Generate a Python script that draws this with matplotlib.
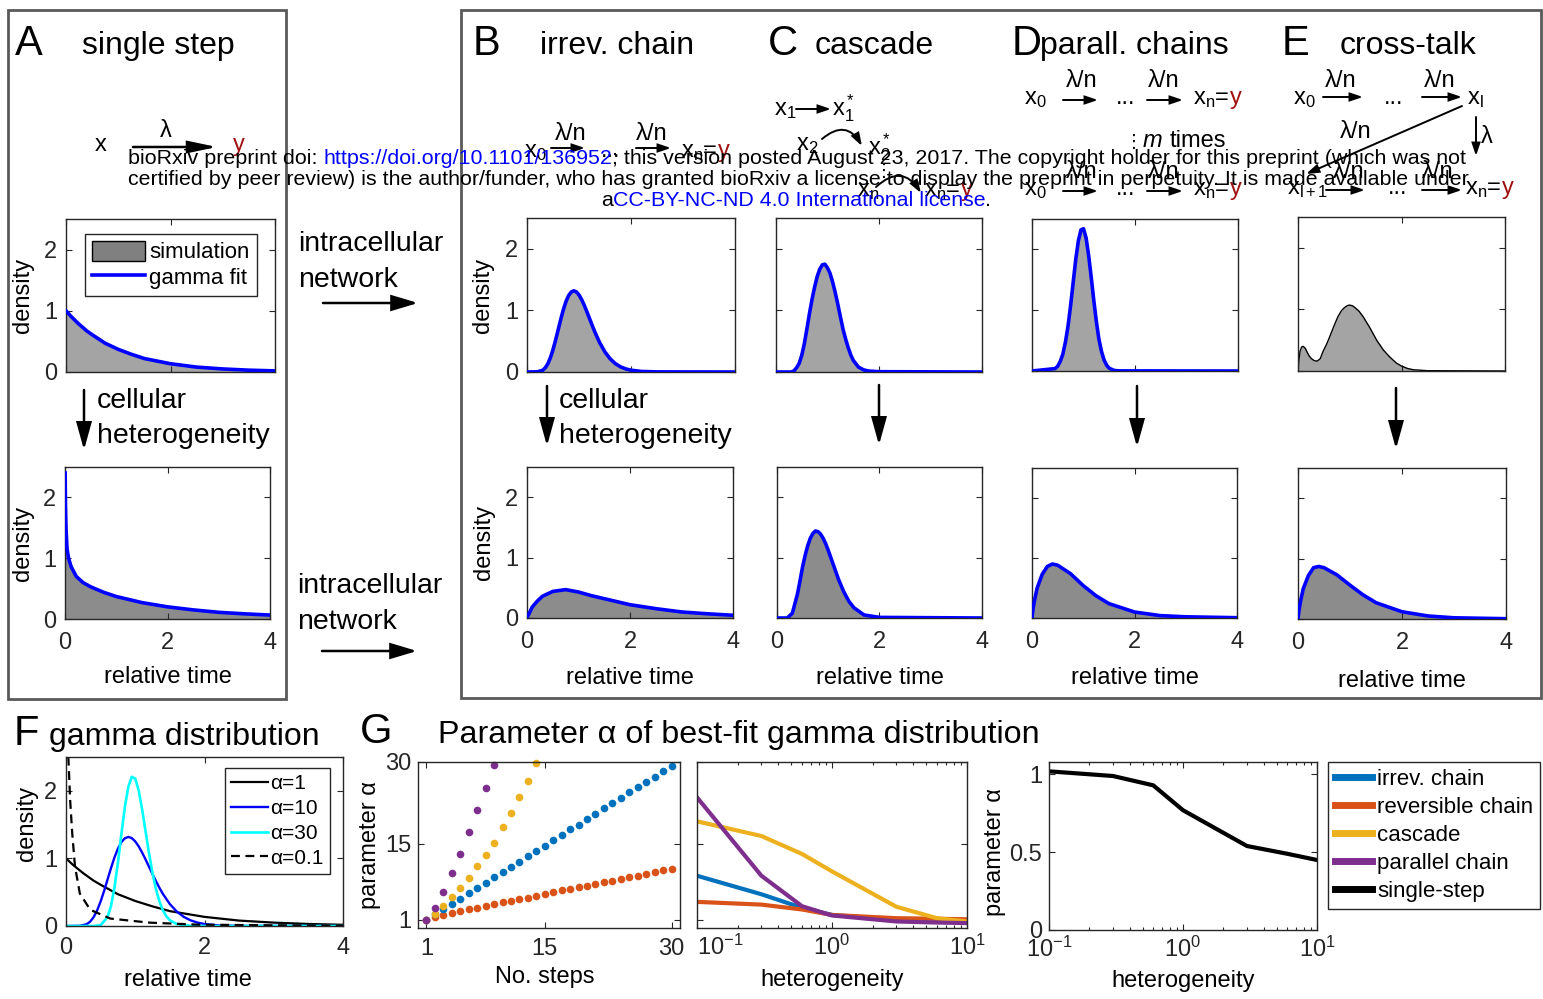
import matplotlib
matplotlib.use("Agg")
import matplotlib.pyplot as plt
from matplotlib.patches import FancyArrowPatch, Rectangle, Patch
from matplotlib.lines import Line2D

plt.rcParams['font.family'] = ['Liberation Sans', 'DejaVu Sans']
plt.rcParams['mathtext.fontset'] = 'custom'
plt.rcParams['mathtext.rm'] = 'Liberation Sans'
plt.rcParams['mathtext.it'] = 'Liberation Sans:italic'
plt.rcParams['mathtext.bf'] = 'Liberation Sans:bold'

# ---------------- data ----------------
# A  single step
a_top_t = [0, 0.1, 0.25, 0.4, 0.5, 0.75, 1, 1.25, 1.5, 2, 2.5, 3, 3.5, 4]
a_top_d = [1.0, 0.905, 0.78, 0.67, 0.61, 0.47, 0.37, 0.29, 0.22, 0.135, 0.08, 0.05, 0.03, 0.018]
a_bot_t = [0.003, 0.01, 0.02, 0.04, 0.07, 0.12, 0.22, 0.35, 0.5, 0.75, 1, 1.5, 2, 2.5, 3, 3.5, 4]
a_bot_d = [2.4, 1.85, 1.5, 1.15, 1.0, 0.86, 0.70, 0.60, 0.53, 0.44, 0.37, 0.27, 0.2, 0.15, 0.11, 0.085, 0.065]
# B  irreversible chain
b_top_t = [0, 0.2, 0.3, 0.35, 0.4, 0.45, 0.5, 0.55, 0.6, 0.65, 0.7, 0.75, 0.8, 0.85, 0.9, 0.95, 1.0,
           1.05, 1.1, 1.15, 1.2, 1.25, 1.3, 1.35, 1.4, 1.5, 1.6, 1.7, 1.8, 1.9, 2.0, 2.2, 2.5, 4]
b_top_d = [0, 0.003, 0.027, 0.066, 0.132, 0.232, 0.363, 0.518, 0.688, 0.858, 1.014, 1.145, 1.241,
           1.298, 1.318, 1.30, 1.251, 1.177, 1.085, 0.982, 0.874, 0.765, 0.661, 0.563, 0.473, 0.324,
           0.213, 0.135, 0.083, 0.05, 0.029, 0.009, 0.002, 0]
b_bot_t = [0, 0.1, 0.2, 0.3, 0.5, 0.75, 1, 1.25, 1.5, 2, 2.5, 3, 3.5, 4]
b_bot_d = [0, 0.18, 0.28, 0.36, 0.44, 0.47, 0.43, 0.37, 0.32, 0.22, 0.155, 0.10, 0.07, 0.045]
# C  cascade
c_top_t = [0, 0.3, 0.35, 0.4, 0.45, 0.5, 0.55, 0.6, 0.65, 0.7, 0.75, 0.8, 0.85, 0.9, 0.95, 1.0,
           1.05, 1.1, 1.15, 1.2, 1.25, 1.3, 1.35, 1.4, 1.45, 1.5, 1.6, 1.7, 1.8, 2, 4]
c_top_d = [0, 0.0, 0.02, 0.07, 0.14, 0.27, 0.46, 0.7, 0.95, 1.18, 1.38, 1.55, 1.67, 1.74, 1.75, 1.69,
           1.6, 1.46, 1.29, 1.1, 0.9, 0.7, 0.54, 0.4, 0.28, 0.19, 0.08, 0.035, 0.015, 0.005, 0]
c_bot_t = [0, 0.2, 0.3, 0.4, 0.45, 0.5, 0.55, 0.6, 0.65, 0.7, 0.75, 0.8, 0.85, 0.9, 0.95, 1.0,
           1.1, 1.2, 1.3, 1.4, 1.5, 1.7, 2, 4]
c_bot_d = [0, 0.0, 0.08, 0.4, 0.62, 0.85, 1.04, 1.2, 1.32, 1.4, 1.44, 1.43, 1.39, 1.32, 1.23, 1.12,
           0.88, 0.64, 0.44, 0.28, 0.17, 0.05, 0.01, 0]
# D  parallel chains
d_top_t = [0, 0.45, 0.5, 0.55, 0.6, 0.65, 0.7, 0.75, 0.8, 0.85, 0.9, 0.95, 1.0, 1.05, 1.1, 1.15,
           1.2, 1.25, 1.3, 1.35, 1.4, 1.45, 1.5, 1.6, 1.7, 4]
d_top_d = [0, 0.04, 0.08, 0.16, 0.28, 0.48, 0.74, 1.08, 1.46, 1.84, 2.14, 2.32, 2.34, 2.19, 1.90,
           1.54, 1.16, 0.81, 0.52, 0.32, 0.18, 0.094, 0.045, 0.008, 0.002, 0]
d_bot_t = [0, 0.02, 0.05, 0.1, 0.2, 0.3, 0.4, 0.5, 0.75, 1, 1.25, 1.5, 2, 2.5, 3, 4]
d_bot_d = [0, 0.15, 0.3, 0.5, 0.73, 0.86, 0.9, 0.88, 0.74, 0.54, 0.37, 0.24, 0.1, 0.04, 0.02, 0.005]
# E  cross-talk (simulation only on top)
e_top_t = [0, 0.02, 0.04, 0.07, 0.1, 0.14, 0.18, 0.22, 0.26, 0.31, 0.37, 0.43, 0.48, 0.55, 0.61,
           0.69, 0.77, 0.84, 0.9, 0.95, 0.99, 1.05, 1.1, 1.18, 1.26, 1.39, 1.52, 1.65, 1.77, 1.9,
           2.0, 2.12, 2.23, 2.5, 4]
e_top_d = [0, 0.2, 0.32, 0.39, 0.40, 0.37, 0.30, 0.24, 0.2, 0.17, 0.16, 0.2, 0.31, 0.43, 0.55,
           0.72, 0.88, 0.98, 1.03, 1.06, 1.07, 1.06, 1.03, 0.97, 0.88, 0.7, 0.5, 0.34, 0.23, 0.13,
           0.08, 0.04, 0.02, 0.005, 0]
e_bot_t = [0, 0.02, 0.05, 0.1, 0.2, 0.3, 0.4, 0.5, 0.75, 1, 1.25, 1.5, 2, 2.5, 3, 4]
e_bot_d = [0, 0.15, 0.3, 0.5, 0.72, 0.85, 0.87, 0.85, 0.73, 0.56, 0.4, 0.27, 0.12, 0.05, 0.02, 0.005]
# F  gamma distributions
f1_t = [0, 0.1, 0.25, 0.4, 0.5, 0.75, 1, 1.25, 1.5, 2, 2.5, 3, 3.5, 4]
f1_d = [1.0, 0.905, 0.78, 0.67, 0.61, 0.47, 0.37, 0.29, 0.22, 0.135, 0.08, 0.05, 0.03, 0.018]
f10_t = [0, 0.2, 0.3, 0.35, 0.4, 0.45, 0.5, 0.55, 0.6, 0.65, 0.7, 0.75, 0.8, 0.85, 0.9, 0.95, 1.0,
         1.05, 1.1, 1.15, 1.2, 1.25, 1.3, 1.35, 1.4, 1.5, 1.6, 1.7, 1.8, 1.9, 2.0, 2.2, 2.5, 4]
f10_d = [0, 0.003, 0.027, 0.066, 0.132, 0.232, 0.363, 0.518, 0.688, 0.858, 1.014, 1.145, 1.241,
         1.298, 1.318, 1.30, 1.251, 1.177, 1.085, 0.982, 0.874, 0.765, 0.661, 0.563, 0.473, 0.324,
         0.213, 0.135, 0.083, 0.05, 0.029, 0.009, 0.002, 0]
f30_t = [0, 0.4, 0.5, 0.6, 0.65, 0.7, 0.75, 0.8, 0.85, 0.9, 0.95, 1.0, 1.05, 1.1, 1.15, 1.2, 1.25,
         1.3, 1.35, 1.4, 1.45, 1.5, 1.6, 1.8, 2, 4]
f30_d = [0, 0, 0.013, 0.131, 0.297, 0.569, 0.938, 1.36, 1.761, 2.06, 2.207, 2.18, 2.002, 1.72,
         1.394, 1.07, 0.779, 0.54, 0.361, 0.23, 0.143, 0.085, 0.028, 0.002, 0, 0]
f01_t = [0.01, 0.03, 0.06, 0.09, 0.13, 0.2, 0.35, 0.64, 1.2, 1.9, 3, 4]
f01_d = [4.0, 2.6, 1.86, 1.37, 0.88, 0.48, 0.24, 0.11, 0.05, 0.02, 0.01, 0.005]
f_labels = ['α=1', 'α=10', 'α=30', 'α=0.1']
# G  best-fit alpha vs number of steps
steps_irrev = list(range(1, 31))
alpha_irrev = [1.0, 2.0, 2.9, 3.9, 4.9, 5.9, 6.8, 7.8, 8.8, 9.8, 10.7, 11.7, 12.7, 13.7, 14.6,
               15.6, 16.6, 17.6, 18.5, 19.5, 20.5, 21.5, 22.4, 23.4, 24.4, 25.4, 26.3, 27.3, 28.3, 29.3]
steps_rev = list(range(1, 31))
alpha_rev = [1.0, 1.5, 1.9, 2.3, 2.6, 2.9, 3.2, 3.6, 3.9, 4.2, 4.5, 4.8, 5.1, 5.4, 5.8,
             6.1, 6.4, 6.7, 7.0, 7.3, 7.6, 7.9, 8.2, 8.5, 8.8, 9.1, 9.5, 9.8, 10.1, 10.4]
steps_casc = list(range(1, 15))
alpha_casc = [1.0, 2.1, 3.6, 5.2, 6.9, 8.7, 10.8, 13.0, 15.2, 18.0, 20.7, 23.6, 26.6, 29.8]
steps_par = list(range(1, 10))
alpha_par = [1.0, 3.2, 6.2, 9.6, 13.1, 17.1, 21.1, 25.2, 29.5]
# G  best-fit alpha vs heterogeneity
het = [0.1, 0.3, 0.6, 1, 3, 6, 10]
het_irrev = [9.1, 5.7, 3.2, 1.9, 1.0, 0.8, 0.7]
het_rev = [4.3, 3.8, 2.9, 1.9, 1.3, 1.2, 1.1]
het_casc = [19.1, 16.4, 13.1, 9.9, 3.4, 1.3, 0.7]
het_par = [23.5, 9.1, 3.5, 1.8, 0.7, 0.5, 0.4]
het_single = [1.02, 0.99, 0.93, 0.77, 0.54, 0.49, 0.45]
g_labels = ['irrev. chain', 'reversible chain', 'cascade', 'parallel chain', 'single-step']
het_ticks = [0.1, 1, 10]
het_ticklabels = [r'$10^{-1}$', r'$10^{0}$', r'$10^{1}$']

# ---------------- styling ----------------
W, H = 1543, 999
BLUE = '#0000ff'
DRED = '#a01010'
C_IRR, C_REV, C_CAS, C_PAR = '#0072BD', '#D95319', '#EDB120', '#7E2F8E'
GRAY_T, GRAY_B = '#a4a4a4', '#8c8c8c'
AXC = '#262626'

fig = plt.figure(figsize=(W / 100, H / 100), dpi=100)
renderer = fig.canvas.get_renderer()


def fx(x):
    return x / W


def fy(y):
    return 1 - y / H


def add_ax(box):
    x0, y0, x1, y1 = box
    ax = fig.add_axes([fx(x0), fy(y1), (x1 - x0) / W, (y1 - y0) / H])
    for s in ax.spines.values():
        s.set_color(AXC)
        s.set_linewidth(1.0)
    ax.tick_params(which='both', direction='in', top=True, right=True, width=0.8,
                   labelsize=17, colors=AXC, labelcolor=AXC)
    ax.tick_params(which='major', length=4)
    ax.tick_params(which='minor', length=2)
    return ax


def ylab(ax, box, s, right_px, ycen=None, size=17):
    x0, y0, x1, y1 = box
    ax.set_ylabel(s, fontsize=size, color='k')
    yc = 0.5 if ycen is None else (y1 - ycen) / (y1 - y0)
    ax.yaxis.set_label_coords((right_px - x0) / (x1 - x0), yc)


def xlab(ax, box, s, top_px, xcen=None, size=17):
    x0, y0, x1, y1 = box
    ax.set_xlabel(s, fontsize=size, color='k')
    xc = 0.5 if xcen is None else (xcen - x0) / (x1 - x0)
    ax.xaxis.set_label_coords(xc, (y1 - top_px) / (y1 - y0))


def txt(x, y, s, size=17, color='k', ha='left', va='baseline', **kw):
    return fig.text(fx(x), fy(y), s, fontsize=size, color=color, ha=ha, va=va, **kw)


def row(x, y, parts, size, zorder=5):
    # parts: (text, colour, style, space_after)
    sp = (txt(0, 0, 'x x', size).get_window_extent(renderer).width
          - txt(0, 0, 'xx', size).get_window_extent(renderer).width)
    for t in fig.texts[-2:]:
        t.remove()
    for s, c, st, gap in parts:
        t = txt(x, y, s, size, color=c, style=st, zorder=zorder)
        x += t.get_window_extent(renderer).width + (sp if gap else 0)
    return x


def arrow(x0, y0, x1, y1, lw=1.4, ms=10, hl=0.75, hw=0.25, rad=0.0):
    a = FancyArrowPatch((fx(x0), fy(y0)), (fx(x1), fy(y1)), transform=fig.transFigure,
                        arrowstyle=f'-|>,head_length={hl},head_width={hw}', mutation_scale=ms,
                        lw=lw, color='k', connectionstyle=f'arc3,rad={rad}',
                        shrinkA=0, shrinkB=0, joinstyle='miter')
    fig.add_artist(a)


def density_ax(box, t, d, fill, fit=True, outline=False, xlabels=False, ylabels=False):
    ax = add_ax(box)
    ax.fill_between(t, 0, d, color=fill, lw=0, zorder=1)
    if outline:
        ax.plot(t, d, color='k', lw=1.0, zorder=2)
    if fit:
        ax.plot(t, d, color=BLUE, lw=2.6, zorder=3)
    ax.set_xlim(0, 4)
    ax.set_ylim(0, 2.5)
    ax.set_xticks([0, 2, 4])
    ax.set_yticks([0, 1, 2])
    ax.tick_params(axis='x', pad=9.5, labelbottom=xlabels)
    ax.tick_params(axis='y', pad=6.5, labelleft=ylabels)
    return ax


# ---------------- frames ----------------
for (x0, y0, x1, y1) in [(8, 10, 286, 699), (461, 10, 1541, 698)]:
    fig.add_artist(Rectangle((fx(x0), fy(y1)), (x1 - x0) / W, (y1 - y0) / H,
                             transform=fig.transFigure, fill=False, ec='#5a5a5a', lw=2))

# ---------------- density panels ----------------
A_TOP, A_BOT = (66, 219, 275, 372), (65, 467, 270, 619)
B_TOP, B_BOT = (527, 218, 735, 372), (527, 467, 733, 618)
C_TOP, C_BOT = (776, 218, 982, 372), (777, 467, 982, 618)
D_TOP, D_BOT = (1032, 219, 1238, 371), (1032, 468, 1237, 618)
E_TOP, E_BOT = (1298, 217, 1505, 371), (1298, 468, 1506, 619)

ax = density_ax(A_TOP, a_top_t, a_top_d, GRAY_T, ylabels=True)
ylab(ax, A_TOP, 'density', 34)
hnd = [Patch(facecolor='#808080', edgecolor='k', lw=1.0), Line2D([], [], color=BLUE, lw=2.6)]
ax.legend(hnd, ['simulation', 'gamma fit'], loc='upper left', bbox_to_anchor=(0.091, 0.902),
          fontsize=16, frameon=True, fancybox=False, edgecolor=AXC, framealpha=1,
          handlelength=2.4, handleheight=1.0, handletextpad=0.2, labelspacing=0.15,
          borderpad=0.3, borderaxespad=0)
ax = density_ax(A_BOT, a_bot_t, a_bot_d, GRAY_B, xlabels=True, ylabels=True)
ylab(ax, A_BOT, 'density', 34)
xlab(ax, A_BOT, 'relative time', 666)

ax = density_ax(B_TOP, b_top_t, b_top_d, GRAY_T, outline=True, ylabels=True)
ylab(ax, B_TOP, 'density', 494)
ax = density_ax(B_BOT, b_bot_t, b_bot_d, GRAY_B, xlabels=True, ylabels=True)
ylab(ax, B_BOT, 'density', 495)
xlab(ax, B_BOT, 'relative time', 667)

density_ax(C_TOP, c_top_t, c_top_d, GRAY_T, outline=True)
ax = density_ax(C_BOT, c_bot_t, c_bot_d, GRAY_B, xlabels=True)
xlab(ax, C_BOT, 'relative time', 667)

density_ax(D_TOP, d_top_t, d_top_d, GRAY_T, outline=True)
ax = density_ax(D_BOT, d_bot_t, d_bot_d, GRAY_B, xlabels=True)
xlab(ax, D_BOT, 'relative time', 667)

density_ax(E_TOP, e_top_t, e_top_d, GRAY_T, fit=False, outline=True)
ax = density_ax(E_BOT, e_bot_t, e_bot_d, GRAY_B, xlabels=True)
xlab(ax, E_BOT, 'relative time', 670)

# ---------------- F ----------------
F_BOX = (66, 757, 343, 926)
ax = add_ax(F_BOX)
ax.plot(f1_t, f1_d, color='k', lw=1.6, label=f_labels[0])
ax.plot(f10_t, f10_d, color=BLUE, lw=1.7, label=f_labels[1])
ax.plot(f30_t, f30_d, color='#00ffff', lw=1.9, label=f_labels[2])
ax.plot(f01_t, f01_d, color='k', lw=1.6, dashes=(4, 2.5), label=f_labels[3])
ax.set_xlim(0, 4)
ax.set_ylim(0, 2.5)
ax.set_xticks([0, 2, 4])
ax.set_yticks([0, 1, 2])
ax.tick_params(axis='x', pad=8)
ax.tick_params(axis='y', pad=6.5)
ylab(ax, F_BOX, 'density', 38, ycen=823)
xlab(ax, F_BOX, 'relative time', 969, xcen=188)
ax.legend(loc='upper right', bbox_to_anchor=(0.953, 0.935), fontsize=15, frameon=True,
          fancybox=False, edgecolor=AXC, framealpha=1, handlelength=1.8, handletextpad=0.1,
          labelspacing=0.28, borderpad=0.3, borderaxespad=0)

# ---------------- G ----------------
G1 = (418, 762, 680, 928)
ax = add_ax(G1)
for s, a, c in [(steps_rev, alpha_rev, C_REV), (steps_irrev, alpha_irrev, C_IRR),
                (steps_casc, alpha_casc, C_CAS), (steps_par, alpha_par, C_PAR)]:
    ax.plot(s, a, 'o', color=c, ms=5.5, mec='none', clip_on=False)
ax.set_xlim(0, 31)
ax.set_ylim(-0.5, 30)
ax.set_xticks([1, 15, 30])
ax.set_yticks([1, 15, 30])
ax.tick_params(axis='x', pad=7)
ax.tick_params(axis='y', pad=5)
ylab(ax, G1, 'parameter α', 381)
xlab(ax, G1, 'No. steps', 966, xcen=545)

G2 = (697, 762, 967, 928)
ax = add_ax(G2)
g_handles = []
for a, c in [(het_irrev, C_IRR), (het_rev, C_REV), (het_casc, C_CAS), (het_par, C_PAR)]:
    g_handles += ax.plot(het, a, color=c, lw=3)
ax.set_xscale('log')
ax.set_xlim(0.1, 10)
ax.set_ylim(-0.5, 30)
ax.set_xticks(het_ticks)
ax.set_xticklabels(het_ticklabels)
ax.xaxis.get_major_ticks()[0].label1.set_horizontalalignment('left')
ax.set_yticks([1, 15, 30])
ax.tick_params(axis='y', labelleft=False)
ax.tick_params(axis='x', pad=5)
xlab(ax, G2, 'heterogeneity', 969)

G3 = (1049, 762, 1317, 930)
ax = add_ax(G3)
g_handles += ax.plot(het, het_single, color='k', lw=3)
ax.set_xscale('log')
ax.set_xlim(0.1, 10)
ax.set_xticks(het_ticks)
ax.set_xticklabels(het_ticklabels)
ax.set_ylim(0, 1.08)
ax.set_yticks([0, 0.5, 1])
ax.set_yticklabels(['0', '0.5', '1'])
ax.tick_params(axis='x', pad=5)
ax.tick_params(axis='y', pad=5)
ylab(ax, G3, 'parameter α', 1006, ycen=852)
xlab(ax, G3, 'heterogeneity', 970)

leg_h = [Line2D([], [], color=h.get_color(), lw=5) for h in g_handles]
fig.legend(leg_h, g_labels, loc='upper left', bbox_to_anchor=(fx(1328), fy(762)),
           fontsize=16, frameon=True, fancybox=False, edgecolor=AXC, framealpha=1,
           handlelength=1.7, handletextpad=0.2, labelspacing=0.32, borderpad=0.3,
           borderaxespad=0)

# ---------------- titles ----------------
for x, s in [(15, 'A'), (473, 'B'), (768, 'C'), (1012, 'D'), (1282, 'E')]:
    txt(x, 55, s, 30)
for x, s in [(82, 'single step'), (540, 'irrev. chain'), (815, 'cascade'),
             (1040, 'parall. chains'), (1340, 'cross-talk')]:
    txt(x, 54, s, 23)
txt(14, 745, 'F', 30)
txt(49, 745, 'gamma distribution', 23)
txt(360, 743, 'G', 30)
txt(438, 743, 'Parameter α of best-fit gamma distribution', 23.2)

# ---------------- connecting text and arrows ----------------
for yb1, yb2, ya, xl in [(251, 287, 303, 298), (593, 629, 651, 297)]:
    txt(xl, yb1, 'intracellular', 20.5)
    txt(xl, yb2, 'network', 20.5)
    arrow(xl + 25, ya, xl + 120, ya, lw=1.8, ms=20, hl=0.8, hw=0.24)
for xa, xt in [(84, 97), (547, 559)]:
    txt(xt, 408, 'cellular', 20.5)
    txt(xt, 443, 'heterogeneity', 20.5)
for xa, y0, y1 in [(84, 390, 450), (547, 386, 446), (879, 385, 445), (1137, 386, 447), (1396, 388, 449)]:
    arrow(xa, y0, xa, y1, lw=1.8, ms=20, hl=0.83, hw=0.23)

# ---------------- reaction schemes ----------------
S = 17
XN = r'x$_\mathrm{n}$='
# A
txt(95, 151, 'x', S)
txt(166, 137, 'λ', S, ha='center')
arrow(133, 147, 217, 147, lw=1.8, ms=20, hl=0.86, hw=0.18)
txt(233, 151, 'y', S, color=DRED)
# B
txt(524, 157, r'x$_0$', S)
txt(555, 140, 'λ/n', S)
arrow(551, 148, 585, 148)
txt(601, 157, '...', S)
txt(636, 140, 'λ/n', S)
arrow(636, 148, 671, 148)
row(681, 157, [(XN, 'k', 'normal', False), ('y', DRED, 'normal', False)], S)
# C
txt(774, 115, r'x$_1$', S)
arrow(796, 109, 831, 109)
txt(832, 115, r'x$_1^*$', S)
txt(796, 150, r'x$_2$', S)
arrow(822, 139, 862, 146, rad=-0.6)
txt(868, 154, r'x$_2^*$', S)
txt(884, 176, '⋮', 13, ha='center')
txt(857, 196, r'x$_\mathrm{n}$', S)
arrow(876, 187, 921, 193, rad=-0.6)
row(924, 196, [(XN, 'k', 'normal', False), ('y', DRED, 'normal', False)], S)
# D
for dy in (0, 91):
    txt(1024, 104 + dy, r'x$_0$', S)
    txt(1066, 87 + dy, 'λ/n', S)
    arrow(1063, 100 + dy, 1098, 100 + dy)
    txt(1116, 104 + dy, '...', S)
    txt(1148, 87 + dy, 'λ/n', S)
    arrow(1147, 100 + dy, 1183, 100 + dy)
    row(1193, 104 + dy, [(XN, 'k', 'normal', False), ('y', DRED, 'normal', False)], S)
txt(1134, 147, '⋮', 13, ha='center')
row(1143, 147, [('m', 'k', 'italic', True), ('times', 'k', 'normal', False)], S)
# E
txt(1293, 104, r'x$_0$', S)
txt(1325, 87, 'λ/n', S)
arrow(1323, 97, 1363, 97)
txt(1384, 104, '...', S)
txt(1424, 87, 'λ/n', S)
arrow(1422, 97, 1462, 97)
txt(1467, 104, r'x$_\mathrm{l}$', S)
arrow(1462, 106, 1306, 174)
txt(1340, 138, 'λ/n', S)
arrow(1476, 117, 1476, 156)
txt(1481, 143, 'λ', S)
txt(1287, 194, r'x$_{\mathrm{l+1}}$', S)
txt(1333, 178, 'λ/n', S)
arrow(1326, 190, 1365, 190)
txt(1388, 194, '...', S)
txt(1422, 178, 'λ/n', S)
arrow(1422, 190, 1462, 190)
row(1465, 194, [(XN, 'k', 'normal', False), ('y', DRED, 'normal', False)], S)

# ---------------- preprint notice ----------------
line1 = [('bioRxiv preprint doi:', 'k', 'normal', True),
         ('https://doi.org/10.1101/136952', BLUE, 'normal', False),
         ('; this version posted August 23, 2017. The copyright holder for this preprint (which was not',
          'k', 'normal', False)]
line2 = [('certified by peer review) is the author/funder, who has granted bioRxiv a license to display '
          'the preprint in perpetuity. It is made available under', 'k', 'normal', False)]
line3 = [('a', 'k', 'normal', False), ('CC-BY-NC-ND 4.0 International license', BLUE, 'normal', False),
         ('.', 'k', 'normal', False)]
probe = txt(0, 0, line2[0][0], 13)
wsize = 13 * 1338 / probe.get_window_extent(renderer).width
probe.remove()
row(128, 164, line1, wsize, zorder=20)
row(128, 185, line2, wsize, zorder=20)
row(601, 206, line3, wsize, zorder=20)

fig.savefig('out.png', dpi=100)
